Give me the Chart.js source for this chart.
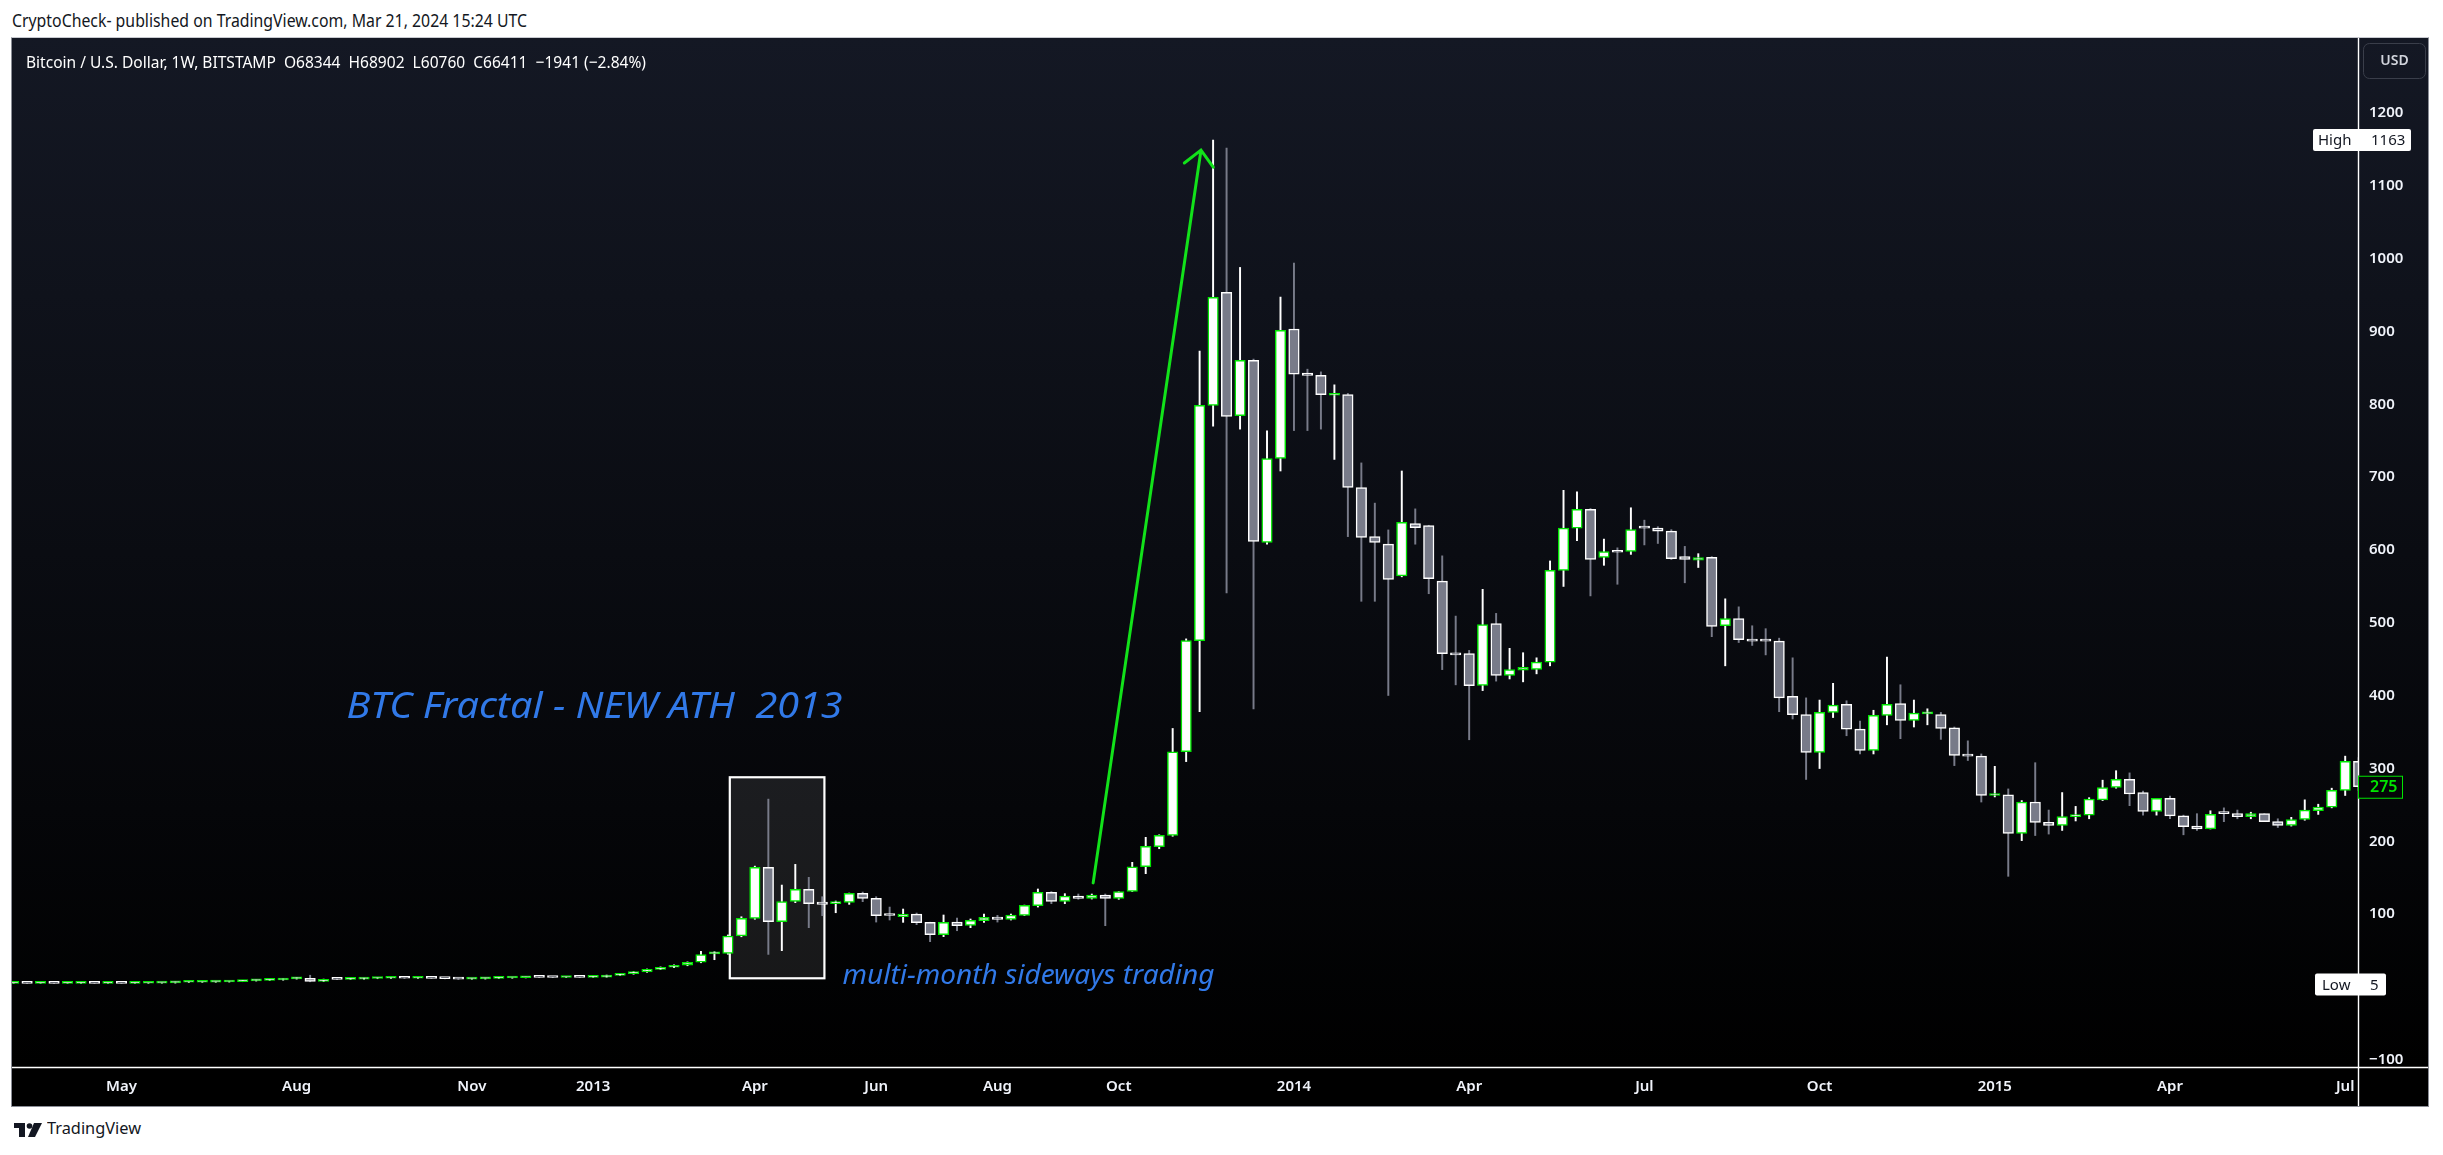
<!DOCTYPE html>
<html>
<head>
<meta charset="utf-8">
<script src="https://cdn.jsdelivr.net/npm/chart.js@4.4.1/dist/chart.umd.min.js"></script>
<style>
  html, body { margin: 0; padding: 0; background: #fff; width: 2443px; height: 1155px; overflow: hidden; font-family: 'Noto Sans', sans-serif; }
  .txt { position: absolute; white-space: pre; line-height: 1; transform-origin: 0 0; display: inline-block; }
  #frame { position: absolute; left: 11px; top: 37px; width: 2416px; height: 1068px; border: 1px solid #8a8d96; border-top-color: #c8cad0; }
  #panel { position: absolute; left: 12px; top: 38px; width: 2416px; height: 1068px;
           background: linear-gradient(to bottom, #141824 0%, #000 96.3%, #000 100%); }
  #panel canvas { position: absolute; left: 0; top: 0; }
</style>
</head>
<body>
<div id="frame"></div>
<div id="panel"><canvas id="btc" width="2416" height="1068"></canvas></div>

<div class="txt" data-w="515" style="left:12px;top:10.7px;font-size:18px;color:#131722">CryptoCheck- published on TradingView.com, Mar 21, 2024 15:24 UTC</div>
<div class="txt" data-w="620" style="left:26px;top:53.2px;font-size:17px;color:#fff">Bitcoin / U.S. Dollar, 1W, BITSTAMP  O68344  H68902  L60760  C66411  −1941 (−2.84%)</div>
<svg style="position:absolute;left:14px;top:1123px" width="28" height="15" viewBox="0 0 28 15">
  <rect x="0" y="0" width="11" height="5" fill="#131722"/>
  <rect x="5" y="0" width="6" height="14" fill="#131722"/>
  <circle cx="15.5" cy="3" r="2.8" fill="#131722"/>
  <polygon points="20,0 28,0 21,14 14,14" fill="#131722"/>
</svg>
<div class="txt" data-w="94" style="left:47px;top:1119px;font-size:17px;color:#131722">TradingView</div>

<script>
// weekly candles, BITSTAMP BTCUSD, week index 0 = week of 7 May 2012
const firstWeek = -8;

const opens = [
  5.0, 5.3, 5.0, 5.1, 5.0, 5.1, 5.2, 5.1, 5.2, 5.1, 5.2, 5.3,
  5.6, 6.5, 6.6, 6.7, 6.9, 7.4, 8.4, 9.2, 9.6, 11.2, 12.0, 7.6,
  10.6, 10.4, 10.9, 11.7, 12.0, 12.3, 12.0, 12.4, 11.9, 11.6, 10.9, 11.1,
  11.9, 12.4, 12.7, 13.3, 13.2, 13.1, 13.4, 13.3, 13.7, 16.0, 18.4, 20.8,
  24.3, 27.1, 29.9, 34.0, 45.6, 46.3, 70.0, 94.3, 164.3, 89.7, 117.6, 134.1,
  116.7, 114.5, 116.3, 128.6, 121.7, 98.4, 96.6, 100.2, 88.8, 71.9, 89.2, 84.7,
  91.1, 96.1, 92.9, 98.4, 111.7, 130.0, 117.6, 124.9, 121.7, 126.3, 121.7, 131.4,
  165.2, 192.7, 208.3, 323.0, 475.6, 798.6, 953.7, 784.5, 860.5, 610.5, 725.7, 903.5,
  843.0, 839.7, 812.5, 813.4, 685.8, 618.4, 608.0, 564.5, 636.2, 633.7, 557.2, 457.8,
  457.8, 414.0, 499.0, 428.0, 435.0, 436.0, 446.0, 572.0, 630.0, 656.0, 590.0, 598.0,
  598.0, 633.0, 630.0, 626.0, 591.0, 586.0, 590.0, 496.0, 506.0, 477.0, 476.0, 475.0,
  399.0, 374.0, 322.0, 377.0, 388.0, 354.0, 325.0, 373.0, 389.0, 366.0, 375.0, 374.0,
  356.0, 319.0, 317.0, 263.0, 264.0, 211.0, 254.0, 226.0, 222.0, 234.0, 236.0, 257.0,
  274.0, 285.0, 267.0, 241.0, 259.0, 235.0, 221.0, 217.0, 239.0, 238.0, 234.0, 238.0,
  227.0, 222.0, 230.0, 242.0, 247.0, 270.0, 310.0
];
const highs = [
  5.4, 5.4, 5.2, 5.2, 5.2, 5.3, 5.3, 5.3, 5.3, 5.3, 5.4, 5.5,
  6.8, 6.8, 6.9, 7.0, 7.8, 8.8, 9.5, 9.8, 11.4, 12.6, 16.2, 10.9,
  11.2, 11.3, 12.2, 12.5, 12.5, 12.5, 12.6, 12.5, 12.0, 11.8, 11.3, 12.1,
  12.6, 12.8, 13.6, 13.6, 13.5, 13.6, 13.6, 14.0, 16.4, 18.8, 21.2, 24.8,
  27.6, 30.4, 34.5, 49.0, 48.5, 71.5, 96.5, 166.0, 258.0, 140.0, 168.4, 150.6,
  124.0, 118.1, 129.0, 130.4, 124.0, 109.8, 107.1, 101.6, 89.0, 98.9, 94.7, 93.4,
  100.2, 98.4, 100.2, 112.5, 134.6, 131.0, 128.2, 127.7, 127.7, 127.7, 131.0, 171.2,
  205.5, 209.0, 355.0, 478.0, 873.0, 1163.0, 1152.0, 988.0, 862.0, 763.7, 947.3, 994.0,
  848.3, 844.6, 826.8, 815.0, 719.6, 664.4, 627.6, 708.5, 656.5, 634.0, 592.0, 509.3,
  462.2, 546.0, 513.0, 465.0, 459.0, 452.0, 585.0, 682.0, 680.0, 657.0, 615.0, 603.0,
  658.0, 641.0, 632.0, 628.0, 605.0, 595.0, 591.0, 533.0, 522.0, 496.0, 492.0, 479.0,
  452.0, 397.0, 394.0, 417.0, 393.0, 365.0, 380.0, 453.0, 415.0, 394.0, 382.0, 377.0,
  357.0, 338.0, 320.0, 303.0, 272.0, 256.0, 308.0, 243.0, 267.0, 248.0, 260.0, 284.0,
  297.0, 294.0, 269.0, 259.0, 262.0, 236.0, 238.0, 242.0, 246.0, 243.0, 240.0, 238.0,
  231.0, 233.0, 257.0, 251.0, 273.0, 317.0, 315.0
];
const lows = [
  5.0, 5.0, 5.0, 5.0, 5.0, 5.0, 5.0, 5.0, 5.0, 5.0, 5.1, 5.2,
  5.4, 6.3, 6.4, 6.5, 6.8, 7.3, 8.2, 8.9, 9.4, 10.9, 7.2, 7.4,
  10.2, 10.2, 10.7, 11.4, 11.8, 11.8, 11.9, 11.7, 11.2, 10.5, 10.6, 10.9,
  11.7, 12.1, 12.5, 12.9, 12.8, 12.9, 13.0, 13.2, 13.5, 15.8, 17.6, 20.2,
  23.8, 26.5, 29.2, 33.3, 37.5, 45.0, 69.0, 93.0, 44.8, 49.9, 115.8, 81.5,
  97.9, 102.0, 113.5, 117.2, 89.2, 92.0, 88.8, 85.6, 62.3, 69.1, 77.3, 81.5,
  88.8, 89.2, 92.0, 98.0, 109.8, 114.4, 114.4, 120.5, 120.8, 84.2, 120.4, 131.0,
  155.6, 189.9, 207.0, 309.5, 378.0, 770.0, 541.0, 766.0, 382.0, 608.0, 708.5, 764.0,
  764.0, 766.0, 724.4, 618.4, 529.6, 529.6, 400.3, 563.2, 608.0, 540.0, 435.8, 414.9,
  339.5, 407.0, 420.0, 423.0, 419.0, 430.0, 441.0, 550.0, 613.0, 537.0, 579.0, 553.0,
  594.0, 607.0, 609.0, 587.0, 555.0, 576.0, 481.0, 441.0, 473.0, 469.0, 456.0, 378.0,
  368.0, 285.0, 300.0, 370.0, 345.0, 320.0, 320.0, 360.0, 341.0, 357.0, 360.0, 340.0,
  304.0, 311.0, 254.0, 261.0, 152.0, 201.0, 208.0, 210.0, 215.0, 228.0, 231.0, 256.0,
  273.0, 249.0, 236.0, 236.0, 231.0, 209.0, 215.0, 217.0, 227.0, 231.0, 231.0, 227.0,
  219.0, 221.0, 229.0, 237.0, 246.0, 263.0, 270.0
];
const closes = [
  5.3, 5.0, 5.1, 5.0, 5.1, 5.2, 5.1, 5.2, 5.1, 5.2, 5.3, 5.4,
  6.5, 6.6, 6.7, 6.9, 7.4, 8.4, 9.2, 9.6, 11.2, 12.0, 7.6, 10.6,
  10.4, 10.9, 11.7, 12.0, 12.3, 12.0, 12.4, 11.9, 11.6, 10.9, 11.1, 11.9,
  12.4, 12.7, 13.3, 13.2, 13.1, 13.4, 13.3, 13.7, 16.0, 18.4, 20.8, 24.3,
  27.1, 29.9, 34.0, 44.5, 46.3, 70.0, 94.3, 164.3, 89.7, 117.2, 134.1, 114.4,
  113.5, 115.0, 128.6, 121.7, 97.9, 98.2, 100.2, 88.3, 71.9, 88.8, 84.2, 91.5,
  95.6, 92.9, 98.9, 112.1, 130.0, 117.6, 124.9, 121.7, 126.3, 121.7, 130.9, 165.2,
  193.2, 208.3, 323.0, 475.6, 798.6, 947.0, 783.3, 860.5, 611.7, 725.7, 901.6, 841.5,
  839.7, 813.4, 814.0, 685.8, 617.2, 610.5, 559.5, 638.0, 630.6, 560.8, 457.8, 456.0,
  413.7, 497.6, 428.0, 436.0, 439.0, 446.0, 572.0, 630.0, 656.0, 587.0, 598.0, 597.0,
  628.0, 630.0, 626.0, 588.0, 587.0, 589.5, 495.0, 506.0, 477.0, 475.0, 475.0, 397.0,
  374.0, 322.0, 377.0, 387.0, 354.0, 325.0, 373.0, 388.0, 366.0, 376.0, 376.0, 355.0,
  318.0, 317.0, 263.0, 264.0, 211.0, 254.0, 226.0, 222.0, 234.0, 236.0, 258.0, 274.0,
  285.0, 265.0, 241.0, 259.0, 235.0, 220.0, 217.0, 237.0, 238.0, 234.0, 238.0, 227.0,
  222.0, 230.0, 243.0, 247.0, 270.0, 310.0, 275.0
];

const timeTicks = [0, 13, 26, 35, 47, 56, 65, 74, 87, 100, 113, 126, 139, 152, 165];
const timeLabels = ['May', 'Aug', 'Nov', '2013', 'Apr', 'Jun', 'Aug', 'Oct', '2014', 'Apr', 'Jul', 'Oct', '2015', 'Apr', 'Jul'];
const priceTicks = [-100, 0, 100, 200, 300, 400, 500, 600, 700, 800, 900, 1000, 1100, 1200];

// drawings on the chart, anchored in week / price units
const boxNote = { x0: 45.14, x1: 52.16, y0: 288, y1: 12 };
const arrowNote = { x0: 72.1, y0: 143, x1: 80.1, y1: 1149 };
const notes = [
  { text: 'BTC Fractal - NEW ATH  2013', x: 16.7, y: 369, size: 37, width: 496 },
  { text: 'multi-month sideways trading', x: 53.5, y: 4.1, size: 27, width: 372 }
];

const UP = '#00e600', GREY = '#787b89', WHITE = '#ffffff';

const weeks = opens.map((_, k) => firstWeek + k);
const isUp = opens.map((o, k) => closes[k] >= o);
const bodies = weeks.map((w, k) => ({ x: w, y: [opens[k], closes[k]] }));
const wicks = weeks.map((w, k) => ({ x: w, y: [lows[k], highs[k]] }));

const fmtPrice = v => (v < 0 ? '\u2212' + Math.abs(v) : String(v));

function fitText(ctx, text, px, py, font, width, color) {
  ctx.font = font;
  const w = ctx.measureText(text).width;
  ctx.save();
  ctx.translate(px, py);
  ctx.scale(width / w, 1);
  ctx.fillStyle = color;
  ctx.textBaseline = 'alphabetic';
  ctx.fillText(text, 0, 0);
  ctx.restore();
}

function roundBox(ctx, x, y, w, h, r) {
  ctx.beginPath();
  ctx.roundRect(x, y, w, h, r);
}

// the pane uses the whole canvas height: drop the label overflow padding
function noPad(s) {
  s.paddingTop = 0; s.paddingBottom = 0; s.paddingLeft = 0; s.paddingRight = 0;
}

const overlay = {
  id: 'overlay',
  beforeDatasetsDraw(chart) {
    const { ctx, scales: { x, y } } = chart;
    const l = x.getPixelForValue(boxNote.x0), r = x.getPixelForValue(boxNote.x1);
    const t = y.getPixelForValue(boxNote.y0), b = y.getPixelForValue(boxNote.y1);
    ctx.save();
    ctx.fillStyle = 'rgba(255,255,255,0.09)';
    ctx.fillRect(l, t, r - l, b - t);
    ctx.strokeStyle = WHITE;
    ctx.lineWidth = 2.2;
    ctx.strokeRect(l, t, r - l, b - t);
    ctx.restore();
  },
  afterDatasetsDraw(chart) {
    const { ctx, scales: { x, y } } = chart;
    // arrow
    const sx = x.getPixelForValue(arrowNote.x0), sy = y.getPixelForValue(arrowNote.y0);
    const tx = x.getPixelForValue(arrowNote.x1), ty = y.getPixelForValue(arrowNote.y1);
    const ang = Math.atan2(sy - ty, sx - tx);
    const wing = 21, spread = 44 * Math.PI / 180;
    ctx.save();
    ctx.strokeStyle = '#12e21a';
    ctx.lineWidth = 3;
    ctx.lineCap = 'round';
    ctx.beginPath();
    ctx.moveTo(sx, sy);
    ctx.lineTo(tx, ty);
    ctx.moveTo(tx + wing * Math.cos(ang + spread), ty + wing * Math.sin(ang + spread));
    ctx.lineTo(tx, ty);
    ctx.lineTo(tx + wing * Math.cos(ang - spread), ty + wing * Math.sin(ang - spread));
    ctx.stroke();
    ctx.restore();
    // texts
    notes.forEach(n => {
      fitText(ctx, n.text, x.getPixelForValue(n.x), y.getPixelForValue(n.y),
        `italic ${n.size}px 'Noto Sans'`, n.width, '#3179e8');
    });
  },
  afterDraw(chart) {
    const { ctx, chartArea: a, scales: { y } } = chart;
    const W = chart.width, H = chart.height;
    ctx.save();
    // corner under the price scale
    ctx.fillStyle = '#000';
    ctx.fillRect(a.right, a.bottom, W - a.right, H - a.bottom);
    // pane borders
    ctx.strokeStyle = WHITE;
    ctx.lineWidth = 1.4;
    ctx.beginPath();
    ctx.moveTo(a.right + 0.5, 0); ctx.lineTo(a.right + 0.5, H);
    ctx.moveTo(0, a.bottom + 0.5); ctx.lineTo(W, a.bottom + 0.5);
    ctx.stroke();

    // USD button
    roundBox(ctx, a.right + 5.5, 5.5, 62, 35, 6);
    ctx.strokeStyle = '#3a3e4a';
    ctx.lineWidth = 1;
    ctx.stroke();
    ctx.fillStyle = '#d1d4dc';
    ctx.font = "600 14px 'Noto Sans'";
    ctx.textAlign = 'center';
    ctx.textBaseline = 'middle';
    ctx.fillText('USD', a.right + 36.5, 23);

    // high / low markers
    const hi = Math.max(...highs), lo = Math.min(...lows);
    ctx.textAlign = 'left';
    ctx.font = "15px 'Noto Sans'";
    const yh = y.getPixelForValue(hi);
    ctx.fillStyle = WHITE;
    roundBox(ctx, a.right - 45, yh - 11, 98, 22, 2); ctx.fill();
    ctx.fillStyle = '#131722';
    ctx.fillText('High', a.right - 40, yh + 1);
    ctx.fillText(String(Math.round(hi)), a.right + 13, yh + 1);
    const yl = y.getPixelForValue(lo);
    ctx.fillStyle = WHITE;
    roundBox(ctx, a.right - 43, yl - 10, 71, 22, 2); ctx.fill();
    ctx.fillStyle = '#131722';
    ctx.fillText('Low', a.right - 36, yl + 2);
    ctx.fillText(String(Math.round(lo)), a.right + 12, yl + 2);

    // last price
    const last = closes[closes.length - 1];
    const yc = y.getPixelForValue(last);
    ctx.fillStyle = '#050608';
    ctx.fillRect(a.right, yc - 11, 44, 22);
    ctx.strokeStyle = UP;
    ctx.lineWidth = 1;
    ctx.strokeRect(a.right + 0.5, yc - 10.5, 44, 22);
    ctx.fillStyle = UP;
    ctx.font = "600 16px 'Noto Sans'";
    ctx.fillText(String(Math.round(last)), a.right + 12, yc + 1);
    ctx.restore();
  }
};

Chart.defaults.font.family = "'Noto Sans', sans-serif";

new Chart(document.getElementById('btc'), {
  type: 'bar',
  data: {
    datasets: [
      {
        data: wicks,
        backgroundColor: isUp.map(u => (u ? WHITE : GREY)),
        barThickness: 1.3,
        grouped: false,
        order: 2,
        clip: 0
      },
      {
        data: bodies,
        backgroundColor: isUp.map(u => (u ? WHITE : GREY)),
        borderColor: isUp.map(u => (u ? UP : WHITE)),
        borderWidth: 1.5,
        borderSkipped: false,
        barThickness: 10.5,
        minBarLength: 2,
        grouped: false,
        order: 1,
        clip: 0
      }
    ]
  },
  options: {
    responsive: false,
    animation: false,
    events: [],
    layout: { padding: 0 },
    plugins: { legend: { display: false }, tooltip: { enabled: false } },
    scales: {
      x: {
        type: 'linear',
        min: -8.12,
        max: 165.95,
        offset: false,
        grid: { display: false, drawTicks: false },
        border: { display: false },
        afterBuildTicks: s => { s.ticks = timeTicks.map(v => ({ value: v })); },
        afterFit: s => { s.height = 39; noPad(s); },
        ticks: {
          autoSkip: false,
          maxRotation: 0,
          padding: 11,
          color: '#f0f3fa',
          font: { size: 15, weight: '600' },
          callback: v => timeLabels[timeTicks.indexOf(v)]
        }
      },
      y: {
        position: 'right',
        min: -109.8,
        max: 1303,
        grid: { display: false, drawTicks: false },
        border: { display: false },
        afterBuildTicks: s => { s.ticks = priceTicks.map(v => ({ value: v })); },
        afterFit: s => { s.width = 70; noPad(s); },
        ticks: {
          padding: 11,
          color: '#f0f3fa',
          font: { size: 15, weight: '600' },
          callback: v => fmtPrice(v)
        }
      }
    }
  },
  plugins: [overlay]
});

document.querySelectorAll('[data-w]').forEach(el => {
  const w = el.getBoundingClientRect().width;
  el.style.transform = `scaleX(${el.dataset.w / w})`;
});
</script>
</body>
</html>
